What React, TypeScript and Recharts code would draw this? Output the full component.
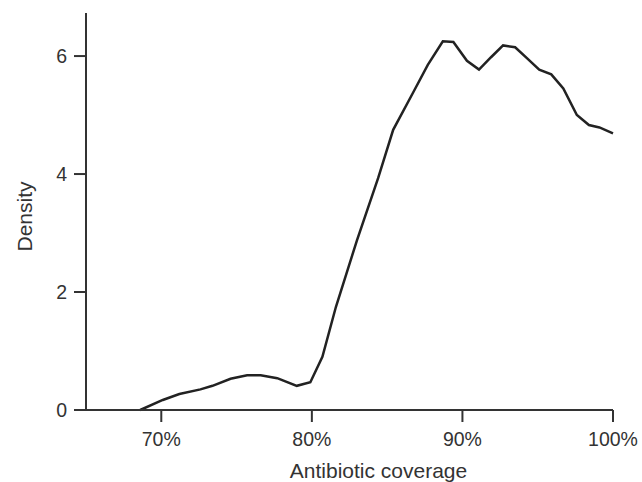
import { LineChart, Line, XAxis, YAxis } from "recharts";

// coverage (%) and estimated density
const coverage = [
  68.6, 70.1, 71.2, 72.6, 73.4, 74.6, 75.7, 76.6, 77.7, 79.0, 79.9, 80.7, 81.6, 83.0, 84.4, 85.4,
  86.7, 87.7, 88.7, 89.4, 90.3, 91.1, 91.9, 92.7, 93.5, 94.3, 95.1, 95.9, 96.7, 97.6, 98.4, 99.1,
  100,
];
const density = [
  0.0, 0.17, 0.27, 0.35, 0.41, 0.53, 0.59, 0.59, 0.54, 0.41, 0.47, 0.9, 1.75, 2.88, 3.93, 4.75,
  5.37, 5.85, 6.25, 6.24, 5.92, 5.77, 5.98, 6.18, 6.15, 5.96, 5.77, 5.69, 5.45, 5.0, 4.83, 4.79,
  4.69,
];
const xTicks = [70, 80, 90, 100];
const yTicks = [0, 2, 4, 6];

const data = coverage.map((c, i) => ({ coverage: c, density: density[i] }));

const font = "'Liberation Sans', Arial, Helvetica, sans-serif";
const axisColor = "#333333";

export default function App() {
  return (
    <div style={{ position: "absolute", left: 0, top: 0, background: "#fff" }}>
      <LineChart
        width={642}
        height={482}
        data={data}
        margin={{ top: 13, right: 29, bottom: 0, left: 0 }}
      >
        <XAxis
          type="number"
          dataKey="coverage"
          domain={[65, 100]}
          ticks={xTicks}
          tickFormatter={(v) => `${v}%`}
          height={72}
          tickSize={12}
          tickMargin={10}
          stroke={axisColor}
          strokeWidth={2}
          tick={{ fontSize: 19.5, fill: "#333", fontFamily: font }}
          label={{
            value: "Antibiotic coverage",
            position: "insideBottom",
            offset: 4,
            dx: 29,
            style: { fontSize: 21, fill: "#333", fontFamily: font },
          }}
        />
        <YAxis
          type="number"
          domain={[0, 6.73]}
          ticks={yTicks}
          width={86}
          tickSize={12}
          tickMargin={7}
          stroke={axisColor}
          strokeWidth={2}
          tick={{ fontSize: 19.5, fill: "#333", fontFamily: font }}
          label={{
            value: "Density",
            angle: -90,
            position: "center",
            dx: -18,
            dy: 5,
            style: { fontSize: 21, fill: "#333", fontFamily: font },
          }}
        />
        <Line
          type="linear"
          dataKey="density"
          stroke="#222222"
          strokeWidth={2.5}
          dot={false}
          isAnimationActive={false}
        />
      </LineChart>
    </div>
  );
}
